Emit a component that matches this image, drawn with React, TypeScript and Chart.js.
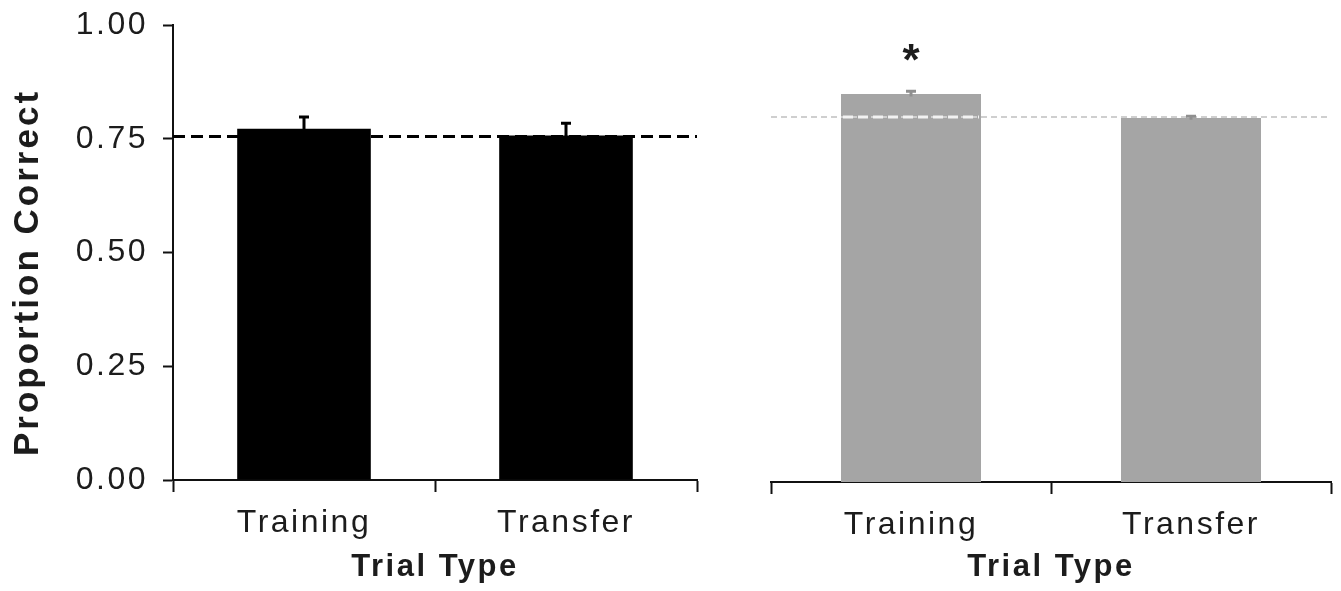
import React, { useEffect, useRef } from 'react';
import { Chart, registerables } from 'chart.js';

Chart.register(...registerables);

// ---- data ----
const categories = ['Training', 'Transfer'];
const leftValues = [0.772, 0.757];
const leftErrors = [0.026, 0.027];
const leftChance = [0.755, 0.755];
const rightValues = [0.853, 0.8];
const rightErrors = [0.006, 0.004];
const rightChance = [0.802, 0.802];
const rightMarks = ['*', ''];
const yTickLabels = ['0.00', '0.25', '0.50', '0.75', '1.00'];
const chanceSpan = [-0.5, 1.5];
const yTitle = 'Proportion Correct';
const xTitle = 'Trial Type';

// ---- styles ----
const FONT = "'Liberation Sans', Arial, Helvetica, sans-serif";
const INK = '#1c1c1c';

type Side = {
  values: number[];
  errors: number[];
  chance: number[];
  marks: string[];
  barColor: string;
  errColor: string;
  chanceColor: string;
  chanceWidth: number;
  chanceDash: number[];
  overlayColor: string | null;
  showY: boolean;
  pad: { left: number; right: number; top: number; bottom: number };
  xHeight: number;
  barPct: number;
};

function makeChart(canvas: HTMLCanvasElement, s: Side) {
  const spacingPlugin = {
    id: 'spacing',
    beforeDraw(chart: any) {
      chart.ctx.letterSpacing = '2.5px';
    },
  };
  const decoPlugin = {
    id: 'deco',
    afterDatasetsDraw(chart: any) {
      const ctx = chart.ctx;
      const meta = chart.getDatasetMeta(1);
      const y = chart.scales.y;
      ctx.save();
      if (s.overlayColor) {
        meta.data.forEach((bar: any, i: number) => {
          if (s.values[i] > s.chance[i] + 0.01) {
            const py = y.getPixelForValue(s.chance[i]);
            ctx.strokeStyle = s.overlayColor;
            ctx.lineWidth = 3;
            ctx.setLineDash([10, 5]);
            ctx.beginPath();
            ctx.moveTo(bar.x - bar.width / 2 + 2, py);
            ctx.lineTo(bar.x + bar.width / 2 - 2, py);
            ctx.stroke();
          }
        });
      }
      ctx.setLineDash([]);
      meta.data.forEach((bar: any, i: number) => {
        const top = y.getPixelForValue(s.values[i] + s.errors[i]);
        const bot = y.getPixelForValue(s.values[i] - s.errors[i]);
        ctx.strokeStyle = s.errColor;
        ctx.lineWidth = 3;
        ctx.beginPath();
        ctx.moveTo(bar.x, bot);
        ctx.lineTo(bar.x, top);
        ctx.moveTo(bar.x - 5, top);
        ctx.lineTo(bar.x + 5, top);
        ctx.stroke();
        const mark = s.marks[i];
        if (mark) {
          ctx.fillStyle = INK;
          ctx.font = `bold 44px ${FONT}`;
          ctx.textAlign = 'center';
          ctx.textBaseline = 'middle';
          ctx.letterSpacing = '0px';
          ctx.fillText(mark, bar.x, top - 28);
        }
      });
      ctx.restore();
    },
    afterDraw(chart: any) {
      if (!s.showY) return;
      const ctx = chart.ctx;
      const a = chart.chartArea;
      ctx.save();
      ctx.translate(28, (a.top + a.bottom) / 2 + 20);
      ctx.rotate(-Math.PI / 2);
      ctx.font = `bold 35px ${FONT}`;
      ctx.letterSpacing = '3px';
      ctx.fillStyle = INK;
      ctx.textAlign = 'center';
      ctx.textBaseline = 'middle';
      ctx.fillText(yTitle, 0, 0);
      ctx.restore();
    },
  };

  return new Chart(canvas, {
    type: 'bar',
    data: {
      labels: categories,
      datasets: [
        {
          type: 'line',
          data: chanceSpan.map((x, i) => ({ x, y: s.chance[i] })),
          xAxisID: 'xl',
          yAxisID: 'y',
          borderColor: s.chanceColor,
          borderWidth: s.chanceWidth,
          borderDash: s.chanceDash,
          pointRadius: 0,
          order: 0,
        } as any,
        {
          type: 'bar',
          data: s.values,
          xAxisID: 'x',
          yAxisID: 'y',
          backgroundColor: s.barColor,
          borderWidth: 0,
          grouped: false,
          barPercentage: s.barPct,
          categoryPercentage: 1,
          order: 1,
        } as any,
      ],
    },
    options: {
      responsive: false,
      animation: false,
      layout: { padding: s.pad },
      plugins: { legend: { display: false }, tooltip: { enabled: false } },
      scales: {
        x: {
          type: 'category',
          offset: true,
          grid: {
            offset: true,
            drawOnChartArea: false,
            drawTicks: true,
            tickLength: 12,
            tickWidth: 2,
            tickColor: '#111',
          },
          border: { display: true, color: '#111', width: 2 },
          ticks: {
            color: INK,
            padding: 12,
            font: { family: FONT, size: 32 },
            maxRotation: 0,
          },
          title: {
            display: true,
            text: xTitle,
            color: INK,
            font: { family: FONT, size: 31, weight: 'bold' },
            padding: { top: 0, bottom: 5 },
          },
          afterFit(scale: any) {
            scale.height = s.xHeight;
            scale.paddingLeft = 0;
            scale.paddingRight = 0;
          },
        },
        xl: {
          type: 'linear',
          display: false,
          offset: false,
          grid: { offset: false },
          min: chanceSpan[0],
          max: chanceSpan[1],
        },
        y: {
          type: 'linear',
          display: s.showY,
          min: 0,
          max: 1,
          grid: {
            drawOnChartArea: false,
            drawTicks: true,
            tickLength: 10,
            tickWidth: 2,
            tickColor: '#111',
          },
          border: { display: true, color: '#111', width: 2 },
          ticks: {
            stepSize: 0.25,
            color: INK,
            padding: 15,
            font: { family: FONT, size: 32 },
            callback: (_v: any, i: number) => yTickLabels[i],
          },
          afterFit(scale: any) {
            if (s.showY) {
              scale.width = 173;
            }
            scale.paddingTop = 0;
            scale.paddingBottom = 0;
          },
        },
      },
    } as any,
    plugins: [spacingPlugin, decoPlugin],
  });
}

const leftSide: Side = {
  values: leftValues,
  errors: leftErrors,
  chance: leftChance,
  marks: ['', ''],
  barColor: '#000000',
  errColor: '#000000',
  chanceColor: '#000000',
  chanceWidth: 3,
  chanceDash: [12, 6],
  overlayColor: null,
  showY: true,
  pad: { left: 0, right: 23, top: 25, bottom: 0 },
  xHeight: 111,
  barPct: 0.51,
};

const rightSide: Side = {
  values: rightValues,
  errors: rightErrors,
  chance: rightChance,
  marks: rightMarks,
  barColor: '#a5a5a5',
  errColor: '#8f8f8f',
  chanceColor: '#cfcfcf',
  chanceWidth: 2,
  chanceDash: [6, 4],
  overlayColor: '#f2f2f2',
  showY: false,
  pad: { left: 51, right: 10, top: 27, bottom: 0 },
  xHeight: 109,
  barPct: 0.5,
};

export default function App() {
  const leftRef = useRef<HTMLCanvasElement>(null);
  const rightRef = useRef<HTMLCanvasElement>(null);

  useEffect(() => {
    const c1 = makeChart(leftRef.current!, leftSide);
    const c2 = makeChart(rightRef.current!, rightSide);
    return () => {
      c1.destroy();
      c2.destroy();
    };
  }, []);

  return (
    <div
      style={{
        position: 'fixed',
        left: 0,
        top: 0,
        width: 1341,
        height: 591,
        background: '#ffffff',
        overflow: 'hidden',
      }}
    >
      <canvas
        ref={leftRef}
        width={720}
        height={591}
        style={{ position: 'absolute', left: 0, top: 0, width: 720, height: 591 }}
      />
      <canvas
        ref={rightRef}
        width={621}
        height={591}
        style={{ position: 'absolute', left: 720, top: 0, width: 621, height: 591 }}
      />
    </div>
  );
}
